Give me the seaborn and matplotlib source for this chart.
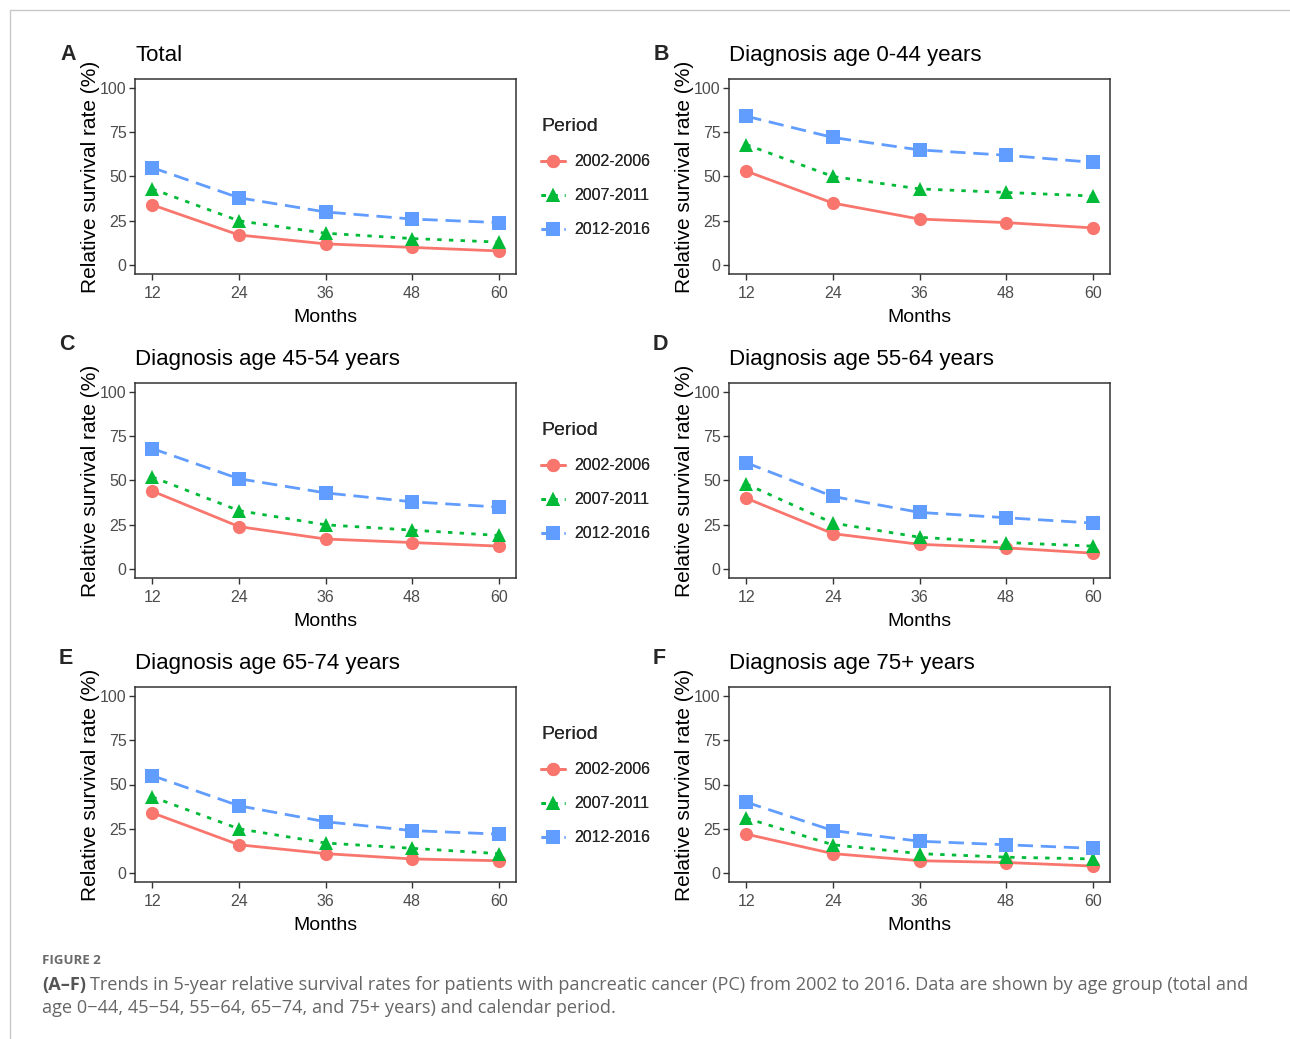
import matplotlib
matplotlib.use("Agg")
import matplotlib.pyplot as plt
from matplotlib.lines import Line2D
import numpy as np
import pandas as pd
import seaborn as sns

# ---------------- data ----------------
months = [12, 24, 36, 48, 60]
periods = ["2002-2006", "2007-2011", "2012-2016"]
panel_letters = ["A", "B", "C", "D", "E", "F"]
panel_titles = ["Total", "Diagnosis age 0-44 years", "Diagnosis age 45-54 years",
                "Diagnosis age 55-64 years", "Diagnosis age 65-74 years",
                "Diagnosis age 75+ years"]

total_p1 = [34, 17, 12, 10, 8]
total_p2 = [43, 25, 18, 15, 13]
total_p3 = [55, 38, 30, 26, 24]

age0_44_p1 = [53, 35, 26, 24, 21]
age0_44_p2 = [68, 50, 43, 41, 39]
age0_44_p3 = [84, 72, 65, 62, 58]

age45_54_p1 = [44, 24, 17, 15, 13]
age45_54_p2 = [52, 33, 25, 22, 19]
age45_54_p3 = [68, 51, 43, 38, 35]

age55_64_p1 = [40, 20, 14, 12, 9]
age55_64_p2 = [48, 26, 18, 15, 13]
age55_64_p3 = [60, 41, 32, 29, 26]

age65_74_p1 = [34, 16, 11, 8, 7]
age65_74_p2 = [43, 25, 17, 14, 11]
age65_74_p3 = [55, 38, 29, 24, 22]

age75_p1 = [22, 11, 7, 6, 4]
age75_p2 = [31, 16, 11, 9, 8]
age75_p3 = [40, 24, 18, 16, 14]

panel_series = [
    (total_p1, total_p2, total_p3),
    (age0_44_p1, age0_44_p2, age0_44_p3),
    (age45_54_p1, age45_54_p2, age45_54_p3),
    (age55_64_p1, age55_64_p2, age55_64_p3),
    (age65_74_p1, age65_74_p2, age65_74_p3),
    (age75_p1, age75_p2, age75_p3),
]

caption_label = "FIGURE 2"
caption_bold = "(A\u2013F)"
caption_line1 = ("Trends in 5-year relative survival rates for patients with pancreatic cancer (PC) "
                 "from 2002 to 2016. Data are shown by age group (total and")
caption_line2 = "age 0\u221244, 45\u221254, 55\u221264, 65\u221274, and 75+ years) and calendar period."

# ---------------- style ----------------
sns.set_theme(style="white")
plt.rcParams["font.family"] = ["Liberation Sans", "DejaVu Sans"]

palette = {"2002-2006": "#F8766D", "2007-2011": "#00BA38", "2012-2016": "#619CFF"}
markers = {"2002-2006": "o", "2007-2011": "^", "2012-2016": "s"}
dashes = {"2002-2006": "", "2007-2011": (1.6, 2.6), "2012-2016": (5.5, 2.8)}

W, H = 1290, 1039
fig = plt.figure(figsize=(W / 100, H / 100), dpi=100)

col_left = [135, 729]
row_top = [79, 383, 687]
ax_w, ax_h = 381, 195
letter_pos = [(68, 55), (661, 55), (67, 344), (660, 344), (66, 658), (659, 658)]

for i in range(6):
    r, c = divmod(i, 2)
    left = col_left[c]
    top = row_top[r]
    ax = fig.add_axes([left / W, 1 - (top + ax_h) / H, ax_w / W, ax_h / H])
    rows = []
    for p, vals in zip(periods, panel_series[i]):
        for m, v in zip(months, vals):
            rows.append({"Months": m, "Rate": v, "Period": p})
    df = pd.DataFrame(rows)
    sns.lineplot(data=df, x="Months", y="Rate", hue="Period", style="Period",
                 palette=palette, markers=markers, dashes=dashes,
                 linewidth=2.0, markersize=9.5, markeredgewidth=0, ax=ax, legend=True)
    ax.set_xlim(9.6, 62.4)
    ax.set_ylim(-5, 105)
    ax.set_xticks(months)
    ax.set_yticks([0, 25, 50, 75, 100])
    ax.tick_params(axis="both", which="both", length=4, width=1, color="#333333",
                   labelsize=11.5, labelcolor="#4D4D4D", direction="out",
                   bottom=True, left=True)
    ax.tick_params(axis="x", pad=5)
    ax.tick_params(axis="y", pad=2)
    for s in ax.spines.values():
        s.set_color("#333333")
        s.set_linewidth(1.1)
    ax.set_xlabel("")
    ax.set_ylabel("")
    ax.text(-0.118, 0.5, "Relative survival rate (%)", rotation=90, ha="center", va="center",
            transform=ax.transAxes, fontsize=15, color="black")
    ax.text(0.5, -0.225, "Months", ha="center", va="center", transform=ax.transAxes,
            fontsize=14, color="black")
    ax.text(0.0, 1.0 + 23 / ax_h, panel_titles[i], ha="left", va="center",
            transform=ax.transAxes, fontsize=16, color="black")
    lx, ly = letter_pos[i]
    fig.text(lx / W, 1 - ly / H, panel_letters[i], ha="center", va="center",
             fontsize=15.5, weight="bold")

    handles, labels = ax.get_legend_handles_labels()
    ax.get_legend().remove()
    ax.legend(handles, labels, title="Period", loc="upper left",
              bbox_to_anchor=((541 - left) / ax_w, 1 - (118 - 79) / ax_h),
              frameon=False, fontsize=11.5, title_fontsize=14,
              handlelength=1.5, handletextpad=0.6, labelspacing=1.2,
              borderpad=0, borderaxespad=0, alignment="left")

# frame lines
fig.add_artist(Line2D([10 / W, 1], [1 - 10 / H, 1 - 10 / H], color="#c8c8c8", lw=1,
                      transform=fig.transFigure))
fig.add_artist(Line2D([10 / W, 10 / W], [0, 1 - 10 / H], color="#c8c8c8", lw=1,
                      transform=fig.transFigure))

# caption
cap_font = ["Open Sans", "DejaVu Sans"]
fig.text(42 / W, 1 - 960 / H, caption_label, fontsize=9.5, weight="bold", color="#6b6b6b",
         family=cap_font, va="center", ha="left")
tb = fig.text(42 / W, 1 - 985 / H, caption_bold, fontsize=13.1, weight="bold", color="#555555",
              family=cap_font, va="center", ha="left")
fig.canvas.draw()
bb = tb.get_window_extent(renderer=fig.canvas.get_renderer())
fig.text((bb.x1 + 4) / W, 1 - 985 / H, caption_line1, fontsize=13.1, color="#666666",
         family=cap_font, va="center", ha="left")
fig.text(42 / W, 1 - 1008 / H, caption_line2, fontsize=13.1, color="#666666",
         family=cap_font, va="center", ha="left")

fig.savefig("out.png", dpi=100, facecolor="white")
